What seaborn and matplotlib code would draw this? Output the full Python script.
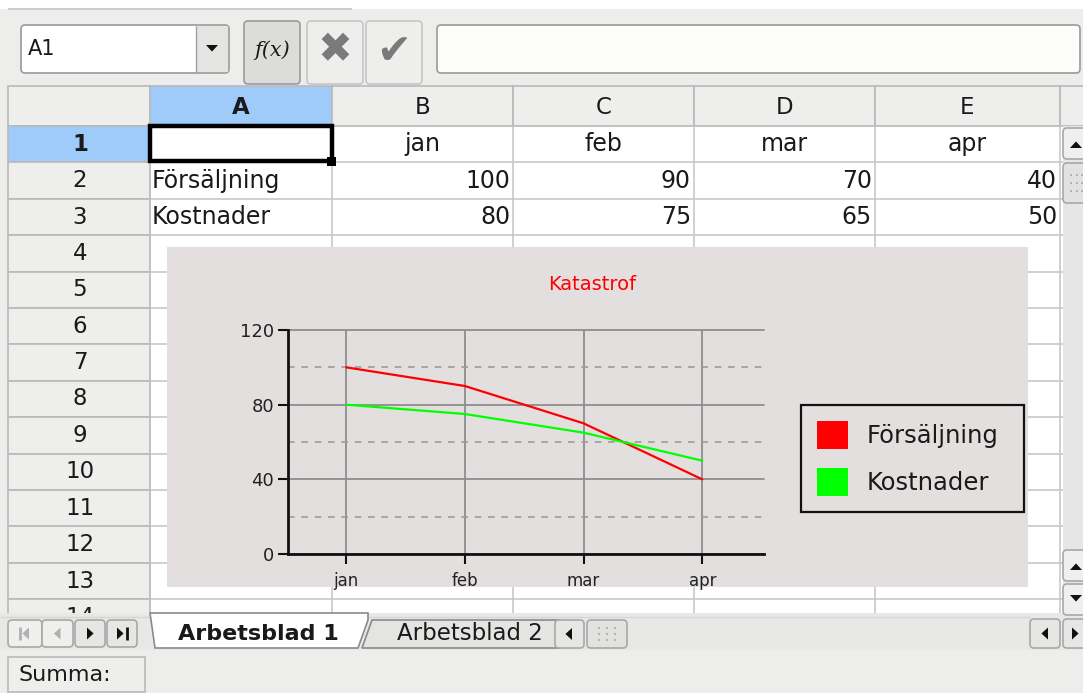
import matplotlib
matplotlib.use('Agg')
import matplotlib.pyplot as plt
from matplotlib.patches import Rectangle, FancyBboxPatch, Polygon, Patch
import seaborn as sns
import pandas as pd

# ---------------- data ----------------
months = ['jan', 'feb', 'mar', 'apr']
series_names = ['Försäljning', 'Kostnader']
forsaljning = [100, 90, 70, 40]
kostnader = [80, 75, 65, 50]
column_letters = ['A', 'B', 'C', 'D', 'E']
row_numbers = [str(i) for i in range(1, 15)]
chart_title = 'Katastrof'
y_major = [0, 40, 80, 120]
y_minor = [20, 60, 100]
series_colors = ['#ff0000', '#00ff00']
sheet_tabs = ['Arbetsblad 1', 'Arbetsblad 2']

# ---------------- figure ----------------
W, H = 1083, 693
sns.set_theme(style='white')
plt.rcParams['font.family'] = ['DejaVu Sans']

UI_BG = '#edeeec'
HDR_BG = '#eeeeec'
HDR_EC = '#b9b9b9'
SEL_BLUE = '#9fcbfb'
GRID = '#c8c8c8'
CHART_BG = '#e3dfde'

fig = plt.figure(figsize=(W / 100, H / 100), dpi=100)
fig.patch.set_facecolor(UI_BG)
ui = fig.add_axes([0, 0, 1, 1])
ui.set_xlim(0, W)
ui.set_ylim(H, 0)
ui.axis('off')


def rect(x0, y0, x1, y1, fc, ec='none', lw=1.0, z=1, rounded=False):
    if rounded:
        p = FancyBboxPatch((x0, y0), x1 - x0, y1 - y0,
                           boxstyle='round,pad=0,rounding_size=4',
                           fc=fc, ec=ec, lw=lw, zorder=z)
    else:
        p = Rectangle((x0, y0), x1 - x0, y1 - y0, fc=fc, ec=ec, lw=lw, zorder=z)
    ui.add_patch(p)


def line(x0, y0, x1, y1, color=GRID, lw=1.0, z=2):
    ui.plot([x0, x1], [y0, y1], color=color, lw=lw, zorder=z,
            solid_capstyle='butt')


def txt(x, y, s, ha='center', size=16, weight='normal', color='#1a1a1a',
        style='normal', family=None, z=5):
    return ui.text(x, y, s, ha=ha, va='center', fontsize=size, fontweight=weight,
                   color=color, fontstyle=style, zorder=z,
                   family=family if family else ['DejaVu Sans'])


def tri(cx, cy, direction, size=6, color='#111111', z=6):
    s = size
    if direction == 'up':
        pts = [(cx - s, cy + s * 0.5), (cx + s, cy + s * 0.5), (cx, cy - s * 0.6)]
    elif direction == 'down':
        pts = [(cx - s, cy - s * 0.5), (cx + s, cy - s * 0.5), (cx, cy + s * 0.6)]
    elif direction == 'left':
        pts = [(cx + s * 0.5, cy - s), (cx + s * 0.5, cy + s), (cx - s * 0.6, cy)]
    else:
        pts = [(cx - s * 0.5, cy - s), (cx - s * 0.5, cy + s), (cx + s * 0.6, cy)]
    ui.add_patch(Polygon(pts, closed=True, fc=color, ec='none', zorder=z))


def grip(x0, y0, x1, y1, z=7):
    xs = [x0 + (x1 - x0) * f for f in (0.3, 0.5, 0.7)]
    ys = [y0 + (y1 - y0) * f for f in (0.3, 0.5, 0.7)]
    for gx in xs:
        for gy in ys:
            rect(gx - 1, gy - 1, gx + 1, gy + 1, '#b4b4b4', z=z)


# ---------------- toolbar ----------------
rect(0, 0, W, 9, 'white', z=1)
line(8, 9, 352, 9, color='#c4c4c4', lw=1.2)

# name box
rect(21, 25, 229, 73, 'white', ec='#9a9a9a', lw=1.2, z=2, rounded=True)
rect(196, 26, 228, 72, '#e4e4e2', z=3)
line(196, 26, 196, 72, color='#a0a0a0', lw=1.0, z=4)
tri(212, 48, 'down', size=6)
txt(28, 49, 'A1', ha='left', size=15)

# buttons
rect(244, 21, 300, 84, '#dcdcda', ec='#9a9a9a', lw=1.2, z=2, rounded=True)
txt(272, 50, 'f(x)', size=15, style='italic', family=['DejaVu Serif'])
rect(307, 21, 363, 84, '#eeeeec', ec='#c6c6c6', lw=1.2, z=2, rounded=True)
txt(335, 50, '\u2716', size=30, color='#7a7a7a')
rect(366, 21, 422, 84, '#eeeeec', ec='#c6c6c6', lw=1.2, z=2, rounded=True)
txt(394, 52, '\u2714', size=30, color='#7a7a7a')

# formula input
rect(437, 25, 1080, 73, '#fdfdfb', ec='#9a9a9a', lw=1.2, z=2, rounded=True)

# ---------------- grid ----------------
col_edges = [150, 332, 513, 694, 875, 1060]
header_top, header_bot = 86, 126
row_h = 36.4
sheet_bottom = 613


def row_top(k):
    return header_bot + k * row_h


# white cell area
rect(150, header_bot, 1063, sheet_bottom, 'white', z=1)

# column header
rect(8, header_top, 150, header_bot, HDR_BG, ec=HDR_EC, lw=1.2, z=2)
for i, letter in enumerate(column_letters):
    x0, x1 = col_edges[i], col_edges[i + 1]
    fc = SEL_BLUE if i == 0 else HDR_BG
    rect(x0, header_top, x1, header_bot, fc, ec=HDR_EC, lw=1.2, z=2)
    txt((x0 + x1) / 2, 107, letter, size=16.5,
        weight='bold' if i == 0 else 'normal')
rect(1060, header_top, W + 5, header_bot, HDR_BG, ec=HDR_EC, lw=1.2, z=2)

# row header
for k, rn in enumerate(row_numbers):
    y0 = row_top(k)
    y1 = y0 + row_h
    fc = SEL_BLUE if k == 0 else HDR_BG
    rect(8, y0, 150, y1, fc, ec=HDR_EC, lw=1.2, z=2)
    txt(80, y0 + row_h / 2, rn, size=16.5,
        weight='bold' if k == 0 else 'normal', z=2.5)

# cell grid lines
for x in col_edges[1:]:
    line(x, header_bot, x, sheet_bottom, color=GRID, lw=1.2)
for k in range(1, len(row_numbers)):
    y = row_top(k)
    line(150, y, 1063, y, color=GRID, lw=1.2)

# cell contents
for i, m in enumerate(months):
    x0, x1 = col_edges[i + 1], col_edges[i + 2]
    txt((x0 + x1) / 2, row_top(0) + row_h / 2, m, size=17)
for r, (name, vals) in enumerate(zip(series_names, [forsaljning, kostnader])):
    yc = row_top(r + 1) + row_h / 2
    txt(152, yc, name, ha='left', size=17)
    for i, v in enumerate(vals):
        txt(col_edges[i + 2] - 3, yc, str(v), ha='right', size=17)

# selection A1
rect(150, row_top(0), 332, row_top(1) - 1, 'none', ec='black', lw=3.2, z=6)
rect(327, row_top(1) - 5, 336, row_top(1) + 4, 'black', z=7)

# vertical scrollbar
rect(1063, header_bot, W + 2, sheet_bottom, '#e6e6e4', z=3)
rect(1063, 128, W + 4, 159, '#efefed', ec='#a8a8a8', lw=1.2, z=4, rounded=True)
tri(1076, 145, 'up', size=6)
rect(1063, 163, W + 4, 203, '#e2e2e0', ec='#a8a8a8', lw=1.2, z=4, rounded=True)
grip(1063, 163, 1090, 203)
rect(1063, 550, W + 4, 581, '#efefed', ec='#a8a8a8', lw=1.2, z=4, rounded=True)
tri(1076, 567, 'up', size=6)
rect(1063, 584, W + 4, 615, '#efefed', ec='#a8a8a8', lw=1.2, z=4, rounded=True)
tri(1076, 598, 'down', size=6)

# ---------------- chart ----------------
rect(167, 247, 1028, 587, CHART_BG, z=8)

ax_left, ax_right, ax_top, ax_bot = 288, 764, 330, 554
ax = fig.add_axes([ax_left / W, 1 - ax_bot / H,
                   (ax_right - ax_left) / W, (ax_bot - ax_top) / H])
ax.set_facecolor('none')

df = pd.DataFrame({
    'month': months * 2,
    'value': forsaljning + kostnader,
    'serie': [series_names[0]] * len(months) + [series_names[1]] * len(months),
})
palette = dict(zip(series_names, series_colors))
sns.lineplot(data=df, x='month', y='value', hue='serie', palette=palette,
             sort=False, lw=1.6, legend=False, ax=ax, zorder=5)

ax.set_xlim(-0.49, 3.52)
ax.set_ylim(0, 120)
ax.set_yticks(y_major)
ax.set_yticks(y_minor, minor=True)
ax.set_xlabel('')
ax.set_ylabel('')
ax.grid(axis='y', which='major', color='#8e8e8e', lw=1.3, ls='-')
ax.grid(axis='y', which='minor', color='#9c9c9c', lw=1.2, ls=(0, (4, 4)))
ax.grid(axis='x', which='major', color='#8e8e8e', lw=1.3, ls='-')
for tk in ax.yaxis.get_major_ticks():
    tk.gridline.set_clip_on(False)
ax.set_axisbelow(True)
for s in ['top', 'right']:
    ax.spines[s].set_visible(False)
for s in ['left', 'bottom']:
    ax.spines[s].set_color('#111111')
    ax.spines[s].set_linewidth(2.0)
ax.tick_params(axis='y', which='major', direction='out', length=7, width=1.5,
               color='#111111', labelsize=13, labelcolor='#222222', pad=3,
               left=True)
ax.tick_params(axis='y', which='minor', length=0)
ax.tick_params(axis='x', which='major', direction='out', length=7, width=1.5,
               color='#111111', labelsize=12, labelcolor='#222222', pad=6,
               bottom=True)

ui.text(592, 284, chart_title, ha='center', va='center', fontsize=14,
        color='#ff0000', zorder=9)

handles = [Patch(fc=c, ec='none') for c in series_colors]
leg = ax.legend(handles, series_names, loc='upper left',
                bbox_to_anchor=(801 / W, 1 - 512 / H, 223 / W, 107 / H),
                bbox_transform=fig.transFigure, borderaxespad=0,
                mode='expand', frameon=True, fancybox=False, fontsize=17.5,
                handlelength=1.3, handleheight=1.4, handletextpad=0.75,
                labelspacing=0.8, borderpad=0.65)
leg.get_frame().set_edgecolor('#111111')
leg.get_frame().set_linewidth(1.6)
leg.get_frame().set_facecolor(CHART_BG)
leg.get_frame().set_alpha(1)
for t in leg.get_texts():
    t.set_color('#1a1a1a')

# ---------------- sheet tabs ----------------
rect(0, sheet_bottom, W, 650, '#e8e8e6', z=3)
line(0, sheet_bottom + 4, 1030, sheet_bottom + 4, color='#d6d6d4', lw=1.0, z=3)
nav = [(8, 42, 'first', '#b0b0b0'), (42, 73, 'left', '#b0b0b0'),
       (75, 105, 'right', '#111111'), (107, 137, 'last', '#111111')]
for x0, x1, kind, col in nav:
    fc = '#e6e6e4' if col == '#111111' else '#efefed'
    rect(x0, 620, x1, 647, fc, ec='#a8a8a8', lw=1.2, z=4, rounded=True)
    cx = (x0 + x1) / 2
    if kind == 'first':
        line(cx - 5, 627, cx - 5, 640, color=col, lw=2, z=6)
        tri(cx + 1, 633.5, 'left', size=6, color=col)
    elif kind == 'last':
        tri(cx - 2, 633.5, 'right', size=6, color=col)
        line(cx + 5, 627, cx + 5, 640, color=col, lw=2, z=6)
    else:
        tri(cx, 633.5, kind, size=6, color=col)

# tab 2 (behind)
ui.add_patch(Polygon([(362, 648), (372, 620), (560, 620), (560, 648)],
                     closed=True, fc='#e4e4e2', ec='#8a8a8a', lw=1.2, zorder=4))
txt(397, 634, sheet_tabs[1], ha='left', size=16.5, z=5)
# tab 1 (active)
ui.add_patch(Polygon([(150, sheet_bottom), (155, 648), (358, 648),
                      (368, 620), (368, sheet_bottom)],
                     closed=True, fc='white', ec='#8a8a8a', lw=1.2, zorder=6))
txt(258, 634, sheet_tabs[0], size=16, weight='bold', z=7)

rect(555, 620, 584, 648, '#e6e6e4', ec='#a8a8a8', lw=1.2, z=6, rounded=True)
tri(569, 634, 'left', size=6)
rect(587, 620, 627, 648, '#e2e2e0', ec='#a8a8a8', lw=1.2, z=6, rounded=True)
grip(587, 620, 627, 648)
rect(1030, 619, 1060, 648, '#e6e6e4', ec='#a8a8a8', lw=1.2, z=6, rounded=True)
tri(1045, 633.5, 'left', size=6)
rect(1063, 619, W + 4, 648, '#e6e6e4', ec='#a8a8a8', lw=1.2, z=6, rounded=True)
tri(1075, 633.5, 'right', size=6)

# ---------------- status bar ----------------
rect(8, 657, 145, 692, HDR_BG, ec='#b9b9b9', lw=1.2, z=3)
txt(18, 675, 'Summa:', ha='left', size=16)

fig.savefig('out.png', dpi=100, facecolor=fig.get_facecolor())
